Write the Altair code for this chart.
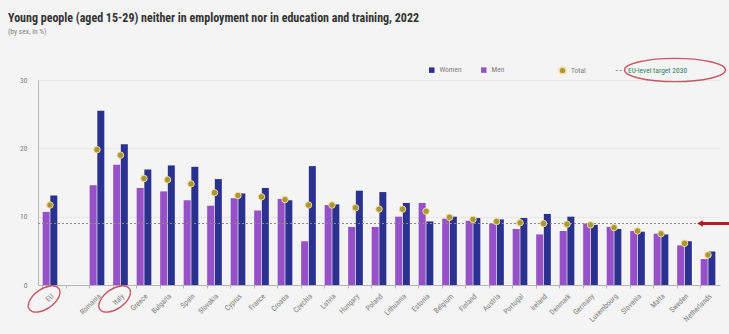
import altair as alt
import pandas as pd

# ---------------- data ----------------
categories = ["EU", "Romania", "Italy", "Greece", "Bulgaria", "Spain", "Slovakia",
              "Cyprus", "France", "Croatia", "Czechia", "Latvia", "Hungary", "Poland",
              "Lithuania", "Estonia", "Belgium", "Finland", "Austria", "Portugal",
              "Ireland", "Denmark", "Germany", "Luxembourg", "Slovenia", "Malta",
              "Sweden", "Netherlands"]
men = [10.7, 14.6, 17.6, 14.2, 13.7, 12.4, 11.6, 12.7, 10.9, 12.6, 6.4, 11.7, 8.5, 8.5,
       10.0, 12.0, 9.7, 9.4, 9.0, 8.2, 7.4, 7.9, 9.0, 8.5, 7.9, 7.5, 5.8, 3.8]
women = [13.1, 25.5, 20.6, 16.9, 17.5, 17.3, 15.5, 13.4, 14.2, 12.4, 17.4, 11.8, 13.8, 13.6,
         12.0, 9.3, 10.0, 9.8, 9.6, 9.8, 10.4, 10.0, 8.8, 8.2, 7.8, 7.4, 6.4, 4.9]
total = [11.7, 19.8, 19.0, 15.6, 15.4, 14.8, 13.5, 13.1, 12.9, 12.5, 11.7, 11.7, 11.3, 11.1,
         11.1, 10.8, 9.9, 9.6, 9.3, 9.1, 9.0, 8.9, 8.8, 8.4, 7.9, 7.5, 6.1, 4.4]
target_value = 9
target_label = "EU-level target 2030"
gap = " "
y_ticks = [0, 5, 10, 15, 20, 25, 30]
highlighted = ["EU", "Italy"]

NAVY = "#2b318f"
PURPLE = "#9650c8"
GOLD = "#a8963a"
GREY = "#8a8a8a"
RED = "#b01c2e"
FONT = "Roboto Condensed, DejaVu Sans Condensed, Liberation Sans Narrow, Roboto, sans-serif"


def ellipse_path(k):
    c = 0.5523
    return (f"M -1 0 C -1 {-k*c:.4f} {-c} {-k} 0 {-k} C {c} {-k} 1 {-k*c:.4f} 1 0 "
            f"C 1 {k*c:.4f} {c} {k} 0 {k} C {-c} {k} -1 {k*c:.4f} -1 0 Z")


rows = []
for c, m, w in zip(categories, men, women):
    rows.append({"country": c, "sex": "Men", "value": m})
    rows.append({"country": c, "sex": "Women", "value": w})
bars_df = pd.DataFrame(rows)
tot_df = pd.DataFrame({"country": categories, "series": ["Total"] * len(categories), "value": total})
tgt_df = pd.DataFrame({"series": [target_label], "value": [target_value]})
hl_df = pd.DataFrame({"country": highlighted})

x_domain = [categories[0], gap] + categories[1:]

x_enc = alt.X("country:N",
              scale=alt.Scale(domain=x_domain, paddingInner=0.38, paddingOuter=0.2),
              sort=x_domain,
              axis=alt.Axis(title=None, labelAngle=-45, labelFontSize=7.5, labelColor="#808080",
                            labelFont=FONT, domainColor="#b5b5b5", tickColor="#b5b5b5",
                            tickSize=3, labelPadding=4, bandPosition=0))
y_scale = alt.Scale(domain=[0, 30], nice=False)
y_axis = alt.Axis(title=None, values=y_ticks, labelFontSize=7.5, labelColor="#808080", labelFont=FONT,
                  ticks=False, labelPadding=11, domain=True, domainColor="#b5b5b5",
                  grid=True, gridColor="#e6e6e6")

legend_common = dict(title=None, orient="none", labelFontSize=7.5, labelColor="#808080",
                     labelFont=FONT)

bars = alt.Chart(bars_df).mark_bar(width=7).encode(
    x=x_enc,
    xOffset=alt.XOffset("sex:N", scale=alt.Scale(domain=["Men", "Women"], paddingInner=0.1)),
    y=alt.Y("value:Q", scale=y_scale, axis=y_axis),
    color=alt.Color("sex:N",
                    scale=alt.Scale(domain=["Women", "Men"], range=[NAVY, PURPLE]),
                    legend=alt.Legend(legendX=390, legendY=-14, direction="horizontal",
                                      symbolType="square", symbolSize=30, columnPadding=18,
                                      **legend_common)),
)

target = alt.Chart(tgt_df).mark_rule(strokeDash=[2, 2], strokeWidth=1, color=GREY).encode(
    y=alt.Y("value:Q", scale=y_scale),
    strokeDash=alt.StrokeDash("series:N", scale=alt.Scale(domain=[target_label], range=[[2, 2]]),
                              legend=alt.Legend(legendX=577, legendY=-14,
                                                symbolType="stroke", symbolStrokeColor=GREY,
                                                symbolStrokeWidth=1.2, symbolSize=60,
                                                **{**legend_common, "labelColor": "#2e7d6a"})),
)

points = alt.Chart(tot_df).mark_point(filled=True, size=42, stroke="#f3dc8c", strokeWidth=1,
                                      opacity=1).encode(
    x=alt.X("country:N", scale=alt.Scale(domain=x_domain), sort=x_domain),
    y=alt.Y("value:Q", scale=y_scale),
    fill=alt.Fill("series:N", scale=alt.Scale(domain=["Total"], range=[GOLD]),
                  legend=alt.Legend(legendX=520, legendY=-14, symbolType="circle",
                                    symbolSize=45, symbolStrokeColor="#f3dc8c",
                                    **legend_common)),
)

hl = alt.Chart(hl_df).mark_point(shape=ellipse_path(0.55), filled=False, stroke=RED,
                                 strokeWidth=1.4, size=1300, angle=325).encode(
    x=alt.X("country:N", scale=alt.Scale(domain=x_domain), sort=x_domain, bandPosition=0.1),
    y=alt.value(219),
)

legend_ring = alt.Chart(tgt_df).mark_point(shape=ellipse_path(0.23), filled=False, stroke=RED,
                                           strokeWidth=1.4, size=10200).encode(
    x=alt.value(637), y=alt.value(-10),
)

arrow_line = alt.Chart(tgt_df).mark_rule(color=RED, strokeWidth=3).encode(
    x=alt.value(663), x2=alt.value(691), y=alt.Y("value:Q", scale=y_scale),
)
arrow_head = alt.Chart(tgt_df).mark_point(shape="triangle-left", filled=True, color=RED,
                                          size=45, opacity=1).encode(
    x=alt.value(662), y=alt.Y("value:Q", scale=y_scale),
)

chart = alt.layer(bars, target, points, hl, legend_ring, arrow_line, arrow_head).resolve_scale(
    xOffset="independent"
).properties(
    width=682,
    height=205,
    autosize=alt.AutoSizeParams(type="none"),
    padding={"left": 38, "top": 80, "right": 9, "bottom": 49},
    background="#f4f4f4",
    title=alt.TitleParams(
        text="Young people (aged 15-29) neither in employment nor in education and training, 2022",
        subtitle="(by sex, in %)",
        anchor="start", frame="group", dx=-30, offset=19,
        font=FONT, fontSize=12, fontWeight="bold", color="#333",
        subtitleFont=FONT, subtitleFontSize=7.5, subtitleColor="#808080", subtitlePadding=3,
    ),
).configure_view(stroke=None)

chart.save("out.html", embed_options={"renderer": "svg", "actions": False})
